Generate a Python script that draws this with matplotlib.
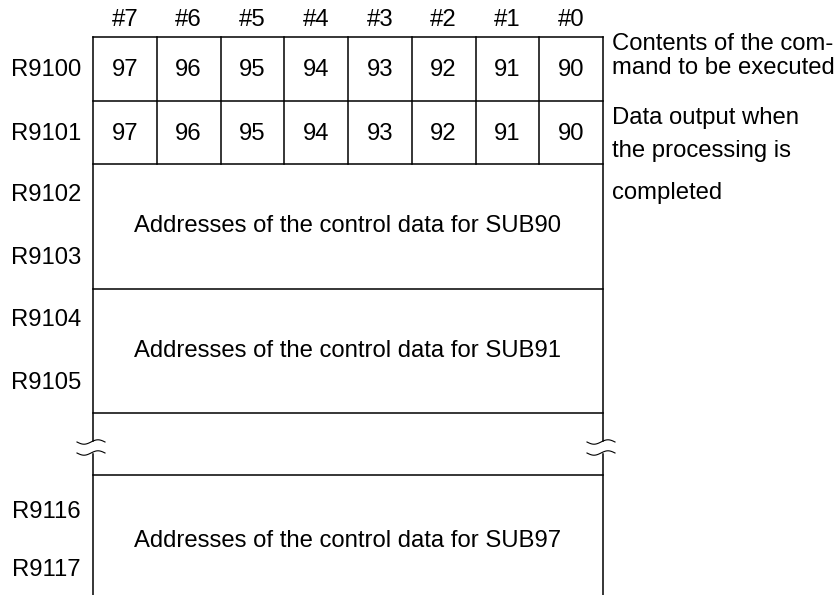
import numpy as np
import matplotlib.pyplot as plt

# Bit numbers across the top and the values in the two command registers
bits = ["#7", "#6", "#5", "#4", "#3", "#2", "#1", "#0"]
cmd_row = [97, 96, 95, 94, 93, 92, 91, 90]
out_row = [97, 96, 95, 94, 93, 92, 91, 90]
byte_regs = ["R9100", "R9101"]
addr_regs = [("R9102", "R9103"), ("R9104", "R9105"), ("R9116", "R9117")]
addr_text = ["Addresses of the control data for SUB90",
             "Addresses of the control data for SUB91",
             "Addresses of the control data for SUB97"]
notes = [["Contents of the com-", "mand to be executed"],
         ["Data output when", "the processing is", "completed"]]

plt.rcParams["font.family"] = ["Liberation Sans", "DejaVu Sans"]
fs = 17.2

fig = plt.figure(figsize=(8.39, 5.95), dpi=100)
ax = fig.add_axes([0, 0, 1, 1])
ax.set_xlim(0, 839)
ax.set_ylim(595, 0)
ax.axis("off")

x0, x1 = 93, 603
cw = (x1 - x0) / len(bits)
lw = 1.1
k = dict(color="black", lw=lw)

# header
for i, b in enumerate(bits):
    ax.text(x0 + (i + 0.5) * cw, 20, b, ha="center", va="center", fontsize=fs)

# two bit rows
ys = [37, 101, 164]
for r, (reg, vals) in enumerate(zip(byte_regs, [cmd_row, out_row])):
    yc = (ys[r] + ys[r + 1]) / 2 + 1
    ax.text(81, yc, reg, ha="right", va="center", fontsize=fs)
    for i, v in enumerate(vals):
        ax.text(x0 + (i + 0.5) * cw, yc, str(v), ha="center", va="center", fontsize=fs)
for y in ys:
    ax.plot([x0, x1], [y, y], **k)
for i in range(1, len(bits)):
    ax.plot([x0 + i * cw] * 2, [ys[0], ys[2]], **k)

# address blocks (the last one runs off the bottom edge)
blocks = [(164, 289, 31, 94), (289, 413, 31, 94), (475, 607, 37, 95)]
for (top, bot, o1, o2), regs, txt in zip(blocks, addr_regs, addr_text):
    ax.text(81, top + o1, regs[0], ha="right", va="center", fontsize=fs)
    ax.text(81, top + o2, regs[1], ha="right", va="center", fontsize=fs)
    ax.text((x0 + x1) / 2, (top + bot) / 2, txt, ha="center", va="center", fontsize=fs)
for y in [289, 413, 475]:
    ax.plot([x0, x1], [y, y], **k)

# side borders with break marks
gap = (441, 454)
for x in [x0, x1]:
    ax.plot([x, x], [ys[0], gap[0]], **k)
    ax.plot([x, x], [gap[1], 595], **k)
    t = np.linspace(-1, 1, 60)
    for yb in [442, 453]:
        ax.plot(x - 2 + 14 * t, yb - 2.2 * np.sin(np.pi * t), color="black", lw=0.8)

# notes on the right
for y, line in zip([44, 68], notes[0]):
    ax.text(612, y, line, ha="left", va="center", fontsize=fs)
for y, line in zip([118, 151, 193], notes[1]):
    ax.text(612, y, line, ha="left", va="center", fontsize=fs)

fig.savefig("out.png", dpi=100)
